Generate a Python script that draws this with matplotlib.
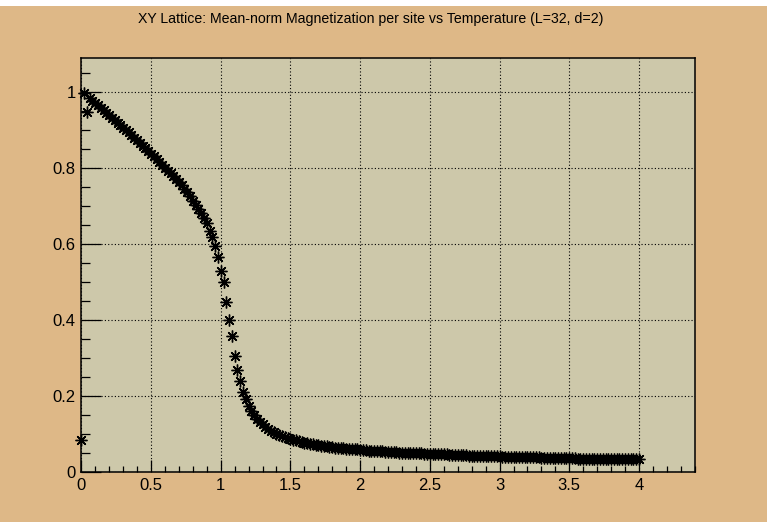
import numpy as np
import matplotlib
matplotlib.use("Agg")
import matplotlib.pyplot as plt
from matplotlib.patches import Rectangle
from matplotlib.ticker import MultipleLocator, FormatStrFormatter

# temperature grid of the scan: 0 .. 4 in steps of 0.02
T_START = 0.0
T_STEP = 0.02

# mean-norm magnetization per site, one value per temperature step
mag = [
    0.084, 0.997, 0.947, 0.985, 0.978, 0.972, 0.966, 0.959, 0.953, 0.946,
    0.940, 0.933, 0.927, 0.920, 0.914, 0.907, 0.901, 0.894, 0.887, 0.880,
    0.873, 0.866, 0.859, 0.852, 0.845, 0.838, 0.831, 0.824, 0.816, 0.808,
    0.801, 0.794, 0.787, 0.779, 0.771, 0.763, 0.755, 0.746, 0.737, 0.726,
    0.715, 0.704, 0.693, 0.682, 0.670, 0.656, 0.636, 0.618, 0.595, 0.567,
    0.530, 0.500, 0.448, 0.400, 0.358, 0.305, 0.269, 0.240, 0.212, 0.194,
    0.175, 0.162, 0.150, 0.141, 0.133, 0.126, 0.120, 0.114, 0.109, 0.105,
    0.101, 0.098, 0.095, 0.092, 0.090, 0.088, 0.086, 0.084, 0.082, 0.080,
    0.078, 0.077, 0.075, 0.074, 0.072, 0.071, 0.070, 0.069, 0.068, 0.067,
    0.066, 0.065, 0.064, 0.064, 0.063, 0.062, 0.061, 0.061, 0.060, 0.060,
    0.059, 0.059, 0.058, 0.057, 0.057, 0.056, 0.056, 0.055, 0.055, 0.054,
    0.054, 0.054, 0.053, 0.053, 0.052, 0.052, 0.052, 0.051, 0.051, 0.051,
    0.050, 0.050, 0.050, 0.049, 0.049, 0.049, 0.048, 0.048, 0.048, 0.047,
    0.047, 0.047, 0.046, 0.046, 0.046, 0.046, 0.045, 0.045, 0.045, 0.044,
    0.044, 0.044, 0.044, 0.043, 0.043, 0.043, 0.043, 0.042, 0.042, 0.042,
    0.042, 0.041, 0.041, 0.041, 0.041, 0.040, 0.040, 0.040, 0.040, 0.040,
    0.039, 0.039, 0.039, 0.039, 0.039, 0.038, 0.038, 0.038, 0.038, 0.038,
    0.038, 0.037, 0.037, 0.037, 0.037, 0.037, 0.037, 0.037, 0.036, 0.036,
    0.036, 0.036, 0.036, 0.036, 0.036, 0.036, 0.035, 0.035, 0.035, 0.035,
    0.035, 0.035, 0.035, 0.035, 0.035, 0.034, 0.034, 0.034, 0.034, 0.034,
    0.034,
]
temps = T_START + T_STEP * np.arange(len(mag))

x_ticks = [0, 0.5, 1, 1.5, 2, 2.5, 3, 3.5, 4]
y_ticks = [0, 0.2, 0.4, 0.6, 0.8, 1]
title = "XY Lattice: Mean-norm Magnetization per site vs Temperature (L=32, d=2)"

CANVAS = "#DEB887"
FRAME = "#CDC8AA"

plt.rcParams["font.family"] = ["Liberation Sans", "DejaVu Sans"]

fig = plt.figure(figsize=(7.67, 5.22), dpi=100, facecolor="white")
fig.patches.append(Rectangle((0, 0), 1, 516 / 522, transform=fig.transFigure,
                             facecolor=CANVAS, edgecolor="none", zorder=-10))

ax = fig.add_axes([0.106, 0.0952, 0.7998, 0.7937])
ax.set_facecolor(FRAME)

ax.plot(temps, mag, linestyle="none", marker=(8, 2, 0), markersize=8.5,
        markeredgewidth=1.0, color="black", clip_on=False, zorder=3)

ax.set_xlim(0, 4.4)
ax.set_ylim(0, 1.09)

ax.set_xticks(x_ticks)
ax.set_yticks(y_ticks)
ax.xaxis.set_minor_locator(MultipleLocator(0.1))
ax.yaxis.set_minor_locator(MultipleLocator(0.05))
ax.xaxis.set_major_formatter(FormatStrFormatter("%g"))
ax.yaxis.set_major_formatter(FormatStrFormatter("%g"))

ax.tick_params(axis="x", which="major", direction="in", length=8.6, width=0.9,
               labelsize=12, pad=4, top=False)
ax.tick_params(axis="x", which="minor", direction="in", length=4.3, width=0.9, top=False)
ax.tick_params(axis="y", which="major", direction="in", length=14.4, width=0.9,
               labelsize=12, pad=4, right=False)
ax.tick_params(axis="y", which="minor", direction="in", length=6.5, width=0.9, right=False)

ax.grid(True, which="major", color="black", linestyle=(0, (1, 2)), linewidth=0.8)
ax.set_axisbelow(True)

for sp in ax.spines.values():
    sp.set_color("black")
    sp.set_linewidth(1.1)

fig.text(371 / 767, 1 - 19 / 522, title, ha="center", va="center", fontsize=10.2)

fig.savefig("out.png", dpi=100, facecolor=fig.get_facecolor())
